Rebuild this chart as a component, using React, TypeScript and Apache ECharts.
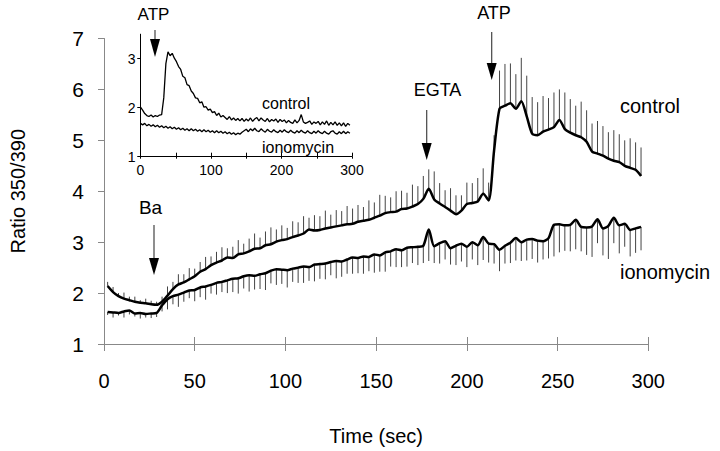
import React, { useEffect, useRef } from "react";
import * as echarts from "echarts";

const FONT = "'Liberation Sans', Arial, sans-serif";

// Main panel: time (sec)
const mainTime = [2,5,8,11,14,17,20,23,26,29,32,35,38,41,44,47,50,53,56,59,62,65,68,71,74,77,80,83,86,89,92,95,98,101,104,107,110,113,116,119,122,125,128,131,134,137,140,143,146,149,152,155,158,161,164,167,170,173,176,179,182,185,188,191,194,197,200,203,206,209,212,215,218,221,224,227,230,233,236,239,242,245,248,251,254,257,260,263,266,269,272,275,278,281,284,287,290,293,296];

const controlRatio = [
  2.14,2.02,1.94,1.89,1.86,1.83,1.81,1.80,1.78,1.77,
  1.83,1.95,2.08,2.17,2.21,2.27,2.33,2.42,2.47,2.55,2.60,2.64,2.70,
  2.69,2.76,2.78,2.82,2.87,2.88,2.94,2.96,3.01,3.04,3.06,3.10,3.13,3.17,3.25,3.23,3.24,3.27,3.29,3.31,3.33,3.35,3.36,
  3.40,3.42,3.44,3.48,3.52,3.57,3.59,3.60,3.65,3.66,3.70,3.75,3.85,4.05,3.84,3.76,3.69,3.62,3.55,3.62,3.75,3.77,3.80,3.95,3.82,
  4.80,5.62,5.68,5.73,5.62,5.77,5.47,5.13,5.10,5.17,5.21,5.26,5.40,5.22,5.15,5.10,5.06,4.97,4.78,4.74,4.70,4.64,4.60,4.57,4.50,4.46,4.42,4.30
];

const controlSD = [
  0.08,0.10,0.06,0.12,0.07,0.10,0.05,0.09,0.07,0.06,
  0.10,0.18,0.14,0.20,0.16,0.22,0.15,0.19,0.24,0.17,0.21,0.26,0.18,
  0.22,0.28,0.19,0.25,0.30,0.21,0.27,0.33,0.24,0.29,0.22,0.31,0.26,0.34,0.23,0.30,0.27,0.35,0.25,0.32,0.28,0.36,0.30,
  0.33,0.27,0.38,0.30,0.41,0.34,0.29,0.40,0.36,0.31,0.43,0.35,0.45,0.38,0.55,0.40,0.33,0.44,0.37,0.30,0.42,0.39,0.46,0.50,0.35,
  0.30,0.75,0.82,0.78,0.68,0.85,0.80,0.72,0.65,0.70,0.62,0.68,0.60,0.72,0.66,0.58,0.70,0.62,0.55,0.64,0.58,0.52,0.60,0.55,0.50,0.58,0.54,0.56
];

const ionoRatio = [
  1.63,1.62,1.61,1.64,1.66,1.60,1.61,1.59,1.60,1.61,
  1.76,1.88,1.94,1.97,2.01,2.05,2.06,2.11,2.13,2.16,2.20,2.22,2.25,
  2.28,2.29,2.33,2.35,2.34,2.37,2.39,2.44,2.47,2.46,2.45,2.48,2.50,2.52,2.51,2.56,2.57,2.58,2.61,2.63,2.62,2.66,2.70,
  2.69,2.72,2.71,2.76,2.74,2.80,2.82,2.86,2.84,2.89,2.90,2.91,2.93,3.25,2.92,2.98,3.02,2.88,2.93,2.97,2.91,3.00,2.94,3.10,2.97,
  2.96,2.85,2.93,2.99,3.08,3.00,3.05,3.06,3.03,3.02,3.08,3.34,3.35,3.33,3.34,3.44,3.30,3.29,3.31,3.45,3.27,3.32,3.48,3.33,3.36,3.24,3.27,3.30
];

const ionoSD = [
  0.06,0.10,0.05,0.12,0.08,0.06,0.11,0.07,0.09,0.08,
  0.12,0.20,0.16,0.24,0.18,0.15,0.22,0.19,0.26,0.17,0.23,0.20,0.25,
  0.26,0.30,0.24,0.32,0.27,0.29,0.33,0.25,0.31,0.28,0.34,0.26,0.30,0.32,0.27,0.33,0.29,0.31,0.26,0.34,0.30,0.28,0.32,
  0.30,0.34,0.28,0.36,0.32,0.38,0.30,0.35,0.33,0.37,0.31,0.36,0.34,0.62,0.33,0.40,0.36,0.32,0.38,0.35,0.40,0.34,0.39,0.45,0.37,
  0.38,0.42,0.35,0.40,0.44,0.37,0.41,0.39,0.43,0.36,0.40,0.62,0.55,0.50,0.52,0.58,0.48,0.54,0.60,0.47,0.53,0.65,0.50,0.55,0.45,0.52,0.48,0.46
];

// Inset panel
const insetTime = [0,3,6,9,12,15,18,21,24,27,30,33,36,39,42,45,48,51,54,57,60,63,66,69,72,75,78,81,84,87,90,93,96,99,102,105,108,111,114,117,120,123,126,129,132,135,138,141,144,147,150,153,156,159,162,165,168,171,174,177,180,183,186,189,192,195,198,201,204,207,210,213,216,219,222,225,228,231,234,237,240,243,246,249,252,255,258,261,264,267,270,273,276,279,282,285,288,291,294,297];

const insetControl = [
  2.01,1.95,1.88,1.84,1.82,1.85,1.81,1.84,1.82,1.85,
  1.86,2.20,2.90,3.14,3.06,3.11,3.01,2.94,2.84,2.78,
  2.64,2.61,2.47,2.45,2.34,2.29,2.20,2.19,2.10,2.12,
  2.01,2.02,1.95,1.97,1.90,1.92,1.84,1.89,1.81,1.84,
  1.80,1.76,1.82,1.75,1.79,1.74,1.78,1.73,1.78,1.72,
  1.77,1.73,1.79,1.72,1.77,1.80,1.73,1.79,1.75,1.72,
  1.78,1.71,1.76,1.73,1.77,1.70,1.76,1.72,1.75,1.69,
  1.74,1.70,1.68,1.75,1.69,1.74,1.86,1.71,1.68,1.70,
  1.73,1.66,1.71,1.68,1.72,1.65,1.71,1.66,1.73,1.64,
  1.70,1.65,1.71,1.64,1.69,1.63,1.69,1.62,1.68,1.64
];

const insetIono = [
  1.68,1.65,1.68,1.63,1.66,1.62,1.65,1.61,1.64,1.60,
  1.63,1.59,1.62,1.58,1.61,1.57,1.60,1.56,1.59,1.55,
  1.58,1.54,1.57,1.53,1.57,1.53,1.56,1.52,1.55,1.51,
  1.55,1.51,1.54,1.50,1.53,1.49,1.53,1.49,1.52,1.48,
  1.51,1.47,1.50,1.46,1.49,1.45,1.48,1.46,1.50,1.53,
  1.56,1.51,1.57,1.53,1.58,1.53,1.51,1.57,1.53,1.50,
  1.56,1.52,1.50,1.55,1.51,1.49,1.54,1.50,1.55,1.51,
  1.49,1.54,1.50,1.48,1.53,1.49,1.54,1.50,1.48,1.53,
  1.49,1.47,1.52,1.48,1.53,1.49,1.47,1.52,1.48,1.46,
  1.51,1.53,1.48,1.46,1.51,1.47,1.52,1.47,1.51,1.48
];

const insetYTicks = [1, 2, 3];

export default function App() {
  const ref = useRef<HTMLDivElement>(null);
  useEffect(() => {
    if (!ref.current) return;
    const chart = echarts.init(ref.current, null, { renderer: "svg" });

    const errSeries = (name: string, t: number[], v: number[], e: number[], dir: number) => ({
      name,
      type: "custom",
      xAxisIndex: 0,
      yAxisIndex: 0,
      silent: true,
      z: 1,
      encode: { x: 0, y: 1 },
      data: t.map((x, i) => [x, v[i], e[i]]),
      renderItem: (params: any, api: any) => {
        const x = api.value(0);
        const y = api.value(1);
        const s = api.value(2);
        const p1 = api.coord([x, y]);
        const p2 = api.coord([x, y + dir * s]);
        return {
          type: "line",
          shape: { x1: p1[0], y1: p1[1], x2: p2[0], y2: p2[1] },
          style: { stroke: "#444", lineWidth: 1 },
        };
      },
    });

    const arrow = (x: number, y1: number, y2: number, hw: number, hh: number) => [
      { type: "line", shape: { x1: x, y1: y1, x2: x, y2: y2 - hh + 1 }, style: { stroke: "#444", lineWidth: 1.2 } },
      { type: "polygon", shape: { points: [[x - hw, y2 - hh], [x + hw, y2 - hh], [x, y2]] }, style: { fill: "#000" } },
    ];
    const txt = (text: string, x: number, y: number, size: number, align = "center") => ({
      type: "text",
      style: { text, x, y, align, verticalAlign: "middle", font: `${size}px ${FONT}`, fill: "#000" },
    });

    const option: any = {
      animation: false,
      backgroundColor: "#fff",
      textStyle: { fontFamily: FONT },
      grid: [
        { left: 102.5, top: 38.5, width: 545.8, height: 307.2 },
        { left: 140.5, top: 34.2, width: 211.5, height: 122.5 },
      ],
      xAxis: [
        {
          gridIndex: 0, type: "value", min: 0, max: 300, interval: 50, position: "bottom",
          axisLine: { lineStyle: { color: "#888", width: 1 } },
          axisTick: { inside: false, length: 7, lineStyle: { color: "#888" } },
          axisLabel: { color: "#000", fontSize: 20, margin: 27, fontFamily: FONT },
          splitLine: { show: false },
          name: "Time (sec)", nameLocation: "middle", nameGap: 82,
          nameTextStyle: { fontSize: 20, color: "#000", fontFamily: FONT },
        },
        {
          gridIndex: 0, type: "value", min: 0, max: 300, interval: 50, position: "bottom",
          axisLine: { show: false },
          axisTick: { inside: true, length: 7, lineStyle: { color: "#888" } },
          axisLabel: { show: false },
          splitLine: { show: false },
        },
        {
          gridIndex: 1, type: "value", min: 0, max: 300, interval: 50, position: "bottom",
          axisLine: { lineStyle: { color: "#000", width: 1 } },
          axisTick: { inside: true, length: 4, lineStyle: { color: "#000" } },
          axisLabel: {
            color: "#000", fontSize: 14, margin: 6, fontFamily: FONT,
            formatter: (v: number) => (v % 100 === 0 ? String(v) : ""),
          },
          splitLine: { show: false },
        },
        {
          gridIndex: 1, type: "value", min: 0, max: 300, interval: 50, position: "bottom",
          axisLine: { show: false },
          axisTick: { inside: false, length: 2, lineStyle: { color: "#000" } },
          axisLabel: { show: false },
          splitLine: { show: false },
        },
      ],
      yAxis: [
        {
          gridIndex: 0, type: "value", min: 1, max: 7, interval: 1,
          axisLine: { show: true, lineStyle: { color: "#888", width: 1 } },
          axisTick: { show: true, inside: false, length: 6, lineStyle: { color: "#888" } },
          axisLabel: { color: "#000", fontSize: 21, margin: 20, fontFamily: FONT },
          splitLine: { show: false },
          name: "Ratio 350/390", nameLocation: "middle", nameGap: 76,
          nameTextStyle: { fontSize: 20, color: "#000", fontFamily: FONT },
        },
        {
          gridIndex: 1, type: "value", min: 1, max: 3.5,
          axisLine: { show: true, lineStyle: { color: "#000", width: 1 } },
          axisTick: { show: true, inside: false, length: 3, lineStyle: { color: "#000" }, customValues: insetYTicks },
          axisLabel: { color: "#000", fontSize: 14, margin: 5, fontFamily: FONT, customValues: insetYTicks },
          splitLine: { show: false },
        },
        {
          gridIndex: 1, type: "value", min: 1, max: 3.5,
          axisLine: { show: false },
          axisTick: { show: true, inside: true, length: 3, lineStyle: { color: "#000" }, customValues: insetYTicks },
          axisLabel: { show: false },
          splitLine: { show: false },
        },
      ],
      series: [
        errSeries("control SD", mainTime, controlRatio, controlSD, 1),
        errSeries("ionomycin SD", mainTime, ionoRatio, ionoSD, -1),
        {
          name: "control", type: "line", xAxisIndex: 0, yAxisIndex: 0, z: 3,
          showSymbol: false, smooth: 0.25,
          lineStyle: { color: "#000", width: 2.5 },
          data: mainTime.map((t, i) => [t, controlRatio[i]]),
        },
        {
          name: "ionomycin", type: "line", xAxisIndex: 0, yAxisIndex: 0, z: 3,
          showSymbol: false, smooth: 0.25,
          lineStyle: { color: "#000", width: 2.5 },
          data: mainTime.map((t, i) => [t, ionoRatio[i]]),
        },
        {
          name: "inset control", type: "line", xAxisIndex: 2, yAxisIndex: 1,
          showSymbol: false,
          lineStyle: { color: "#000", width: 1.3 },
          data: insetTime.map((t, i) => [t, insetControl[i]]),
        },
        {
          name: "inset ionomycin", type: "line", xAxisIndex: 2, yAxisIndex: 1,
          showSymbol: false,
          lineStyle: { color: "#000", width: 1.3 },
          data: insetTime.map((t, i) => [t, insetIono[i]]),
        },
      ],
      graphic: [
        txt("ATP", 494, 13, 18),
        ...arrow(491.7, 32, 80, 5, 17),
        txt("EGTA", 437.5, 90, 18),
        ...arrow(426.7, 110, 160, 5, 17),
        txt("Ba", 150.5, 207, 19),
        ...arrow(154, 225, 275, 5, 17),
        txt("ATP", 153.5, 14, 17),
        ...arrow(155, 30, 57, 5, 18),
        txt("control", 620, 106, 20, "left"),
        txt("ionomycin", 620, 272, 20, "left"),
        txt("control", 262, 103, 16, "left"),
        txt("ionomycin", 262, 147, 16, "left"),
      ],
    };

    chart.setOption(option);
    return () => chart.dispose();
  }, []);

  return (
    <div
      ref={ref}
      style={{ position: "absolute", left: 0, top: 0, width: 720, height: 451, background: "#fff" }}
    />
  );
}
